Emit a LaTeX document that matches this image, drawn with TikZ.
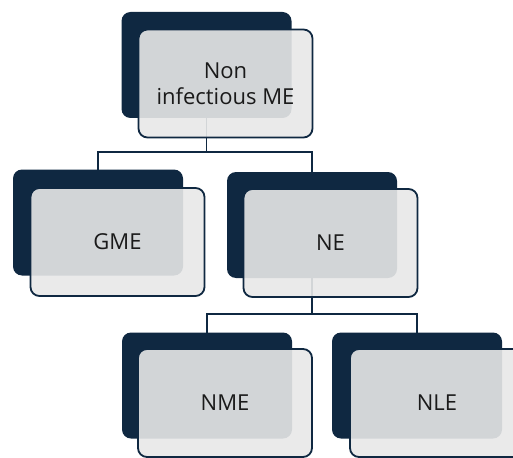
\documentclass[tikz,border=0pt]{standalone}
\usepackage{fontspec}
\setmainfont{Open Sans}
\definecolor{navy}{HTML}{0F2841}
\definecolor{paper}{HTML}{E8E8E8}
\definecolor{ink}{HTML}{1A1A1A}
\begin{document}
\begin{tikzpicture}[x=1pt,y=-1pt,
  back/.style={rectangle, rounded corners=9pt, fill=navy, draw=none,
    minimum width=170pt, minimum height=106pt, outer sep=0pt, inner sep=0pt},
  front/.style={rectangle, rounded corners=9pt, fill=paper, fill opacity=0.9,
    text opacity=1, draw=navy, draw opacity=1, line width=1.8pt,
    minimum width=174pt, minimum height=108pt, outer sep=0pt,
    text=ink, font=\fontsize{22}{26}\selectfont, align=center},
  link/.style={draw=navy, line width=1.8pt}]
\useasboundingbox (0,0) rectangle (513,457);
% dark back boxes
\node[back] (topd) at (206.5,65) {};
\node[back] (gmed) at (98,222.5) {};
\node[back] (ned) at (312,225) {};
\node[back] (nmed) at (207,385.5) {};
\node[back] (nled) at (417,385.5) {};
% connectors (behind the front boxes)
\draw[link] (topd.south) -- ++(0,34) coordinate (tj);
\draw[link] (tj) -| (gmed.north);
\draw[link] (tj) -| (ned.north);
\draw[link] (ned.south) -- ++(0,36) coordinate (nj);
\draw[link] (nj) -| (nmed.north);
\draw[link] (nj) -| (nled.north);
% front boxes
\node[front] (topf) at (225.5,83.5) {Non\\infectious ME};
\node[front] (gmef) at (117.5,242) {GME};
\node[front] (nef) at (330.5,243) {NE};
\node[front] (nmef) at (225,403) {NME};
\node[front] (nlef) at (437,403) {NLE};
\end{tikzpicture}
\end{document}
